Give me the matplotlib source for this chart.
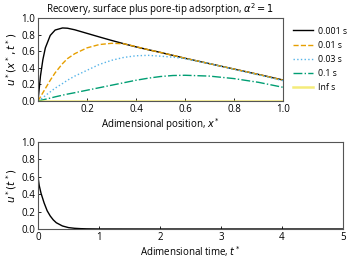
import numpy as np
import matplotlib.pyplot as plt

plt.rcParams['font.family'] = ['Open Sans', 'DejaVu Sans']
plt.rcParams['mathtext.fontset'] = 'dejavusans'

# profile along the pore, u*(x*, t*)
x = [0.0, 0.01, 0.02, 0.03, 0.05, 0.07, 0.1, 0.12, 0.15, 0.2, 0.25, 0.3, 0.35,
     0.4, 0.45, 0.5, 0.55, 0.6, 0.7, 0.8, 0.9, 1.0]
u_0001 = [0.0, 0.30, 0.50, 0.64, 0.79, 0.855, 0.88, 0.877, 0.858, 0.815, 0.772, 0.73, 0.69,
          0.652, 0.618, 0.585, 0.55, 0.515, 0.45, 0.385, 0.32, 0.253]
u_001 = [0.0, 0.05, 0.10, 0.15, 0.25, 0.34, 0.45, 0.51, 0.57, 0.64, 0.68, 0.695, 0.69,
         0.655, 0.618, 0.585, 0.55, 0.515, 0.45, 0.385, 0.32, 0.25]
u_003 = [0.0, 0.02, 0.04, 0.065, 0.11, 0.155, 0.21, 0.25, 0.30, 0.37, 0.44, 0.49, 0.525,
         0.545, 0.55, 0.54, 0.528, 0.51, 0.45, 0.382, 0.315, 0.245]
u_01 = [0.0, 0.007, 0.014, 0.021, 0.035, 0.05, 0.07, 0.083, 0.10, 0.13, 0.16, 0.19, 0.22,
        0.25, 0.275, 0.295, 0.307, 0.31, 0.30, 0.27, 0.225, 0.165]
u_inf = [0.0] * len(x)

series = [
    ('0.001 s', u_0001, '#000000', '-'),
    ('0.01 s', u_001, '#E69F00', '--'),
    ('0.03 s', u_003, '#56B4E9', ':'),
    ('0.1 s', u_01, '#009E73', '-.'),
    ('Inf s', u_inf, '#F0E442', '-'),
]

# recovery at the tip, u*(t*)
t = [0.0, 0.02, 0.05, 0.1, 0.15, 0.2, 0.25, 0.3, 0.4, 0.5, 0.6, 0.7, 0.8, 1.0, 2.0, 3.0, 4.0, 5.0]
u_t = [0.6, 0.5, 0.41, 0.3, 0.21, 0.15, 0.105, 0.072, 0.035, 0.016, 0.008, 0.004, 0.002, 0.0005, 0.0, 0.0, 0.0, 0.0]

fig = plt.figure(figsize=(3.49, 2.62), dpi=100)
ax1 = fig.add_axes([38 / 349, 1 - 101 / 262, 245 / 349, 83 / 262])
ax2 = fig.add_axes([38 / 349, 1 - 229 / 262, 305 / 349, 87 / 262])

for lab, vals, col, ls in series:
    if lab == 'Inf s':
        ax1.plot(x, vals, color=col, ls=ls, lw=1.8, alpha=0.7, label=lab)
    else:
        ax1.plot(x, vals, color=col, ls=ls, lw=1.0, label=lab)

ax1.set_xlim(0, 1)
ax1.set_ylim(0, 1)
ax1.set_xticks([0.2, 0.4, 0.6, 0.8, 1.0])
ax1.set_yticks([0, 0.2, 0.4, 0.6, 0.8, 1.0])
ax1.set_title(r'Recovery, surface plus pore-tip adsorption, $\alpha^2 = 1$', fontsize=7, pad=3)
ax1.set_xlabel(r'Adimensional position, $x^*$', fontsize=7, labelpad=1)
ax1.set_ylabel(r'$u^*(x^*, t^*)$', fontsize=7.5, labelpad=2)
ax1.legend(loc='center left', bbox_to_anchor=(1.01, 0.5), frameon=False, fontsize=6.3,
           handlelength=2.2, labelspacing=0.6, handletextpad=0.6)

ax2.plot(t, u_t, color='black', lw=1.0)
ax2.set_xlim(0, 5)
ax2.set_ylim(0, 1)
ax2.set_yticks([0, 0.2, 0.4, 0.6, 0.8, 1.0])
ax2.set_xlabel(r'Adimensional time, $t^*$', fontsize=7, labelpad=1)
ax2.set_ylabel(r'$u^*(t^*)$', fontsize=7.5, labelpad=2)

for ax in (ax1, ax2):
    ax.tick_params(direction='in', length=2, width=0.6, labelsize=7, pad=2)
    for s in ax.spines.values():
        s.set_color('#555555')
        s.set_linewidth(0.8)

fig.savefig('out.png', dpi=100)
